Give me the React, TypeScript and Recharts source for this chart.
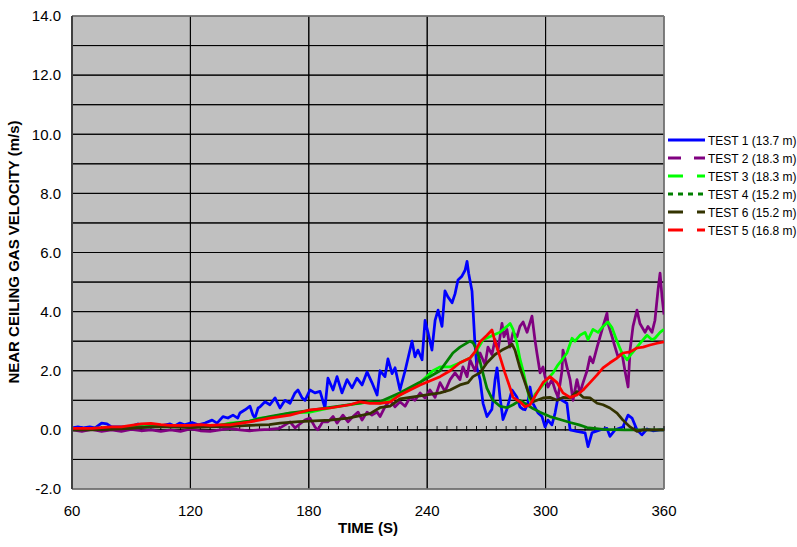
import React from 'react';
import { LineChart, Line, XAxis, YAxis, CartesianGrid, ReferenceLine } from 'recharts';

const FONT = '"Liberation Sans", Arial, Helvetica, sans-serif';

// Axis ticks
const X_TICKS = [60, 120, 180, 240, 300, 360];
const Y_TICKS = [-2, -1, 0, 1, 2, 3, 4, 5, 6, 7, 8, 9, 10, 11, 12, 13, 14];
const MINOR_X_TICKS = Array.from({ length: 61 }, (_, i) => 60 + i * 5);

// TEST 1 (13.7 m)
const T1_TIME = [60,63,65.6,69,71.7,75,77.7,80,83,87,90,93.4,96,101,104.6,109.7,112,114.7,117,120.8,124,127.4,131,133.5,136.5,139,141.6,144,145.1,147.7,150.2,151.7,152.7,154.3,155.3,157.8,160.3,162.9,165.4,167.9,170.5,173,174.5,176.6,178.1,180.6,183.1,185.7,188.2,189.7,192.3,194.3,196.8,199.4,201.9,204.4,207,209.5,212,214.6,216.1,218.6,220.1,222.2,223.7,226.2,228.8,232.3,233.8,235.3,237.4,238.9,240.4,242.4,244,245.5,247.5,249,250.5,252.6,254.1,255.6,257.6,259.2,260.2,261,262.7,264.2,265.2,266.8,268.3,270.3,272.8,274.4,275.4,276.9,278.4,280.4,283,285.5,287,288.5,289.6,291,292.1,293.6,296.2,298.2,299.7,301.2,303.2,304.8,306.3,308.3,310.8,312.4,315.9,320,321.5,323.5,327.6,331.1,332.6,335.2,339.2,341.8,343.8,346.3,348.8,351.4,354.4,357.9,360];
const T1_VEL = [0.07,0.1,0.07,0.1,0.07,0.23,0.2,0.1,0.1,0.1,0.12,0.2,0.1,0.1,0.13,0.2,0.13,0.23,0.17,0.25,0.17,0.23,0.33,0.23,0.45,0.4,0.5,0.4,0.57,0.68,0.8,0.5,0.4,0.74,0.78,0.95,0.85,1.08,0.74,1.0,0.9,1.25,1.35,1.08,1.0,1.35,1.25,1.3,0.74,1.75,1.35,1.8,1.25,1.7,1.42,1.75,1.52,1.96,1.6,1.18,2.0,1.8,2.4,1.9,2.1,1.35,2.0,3.0,2.47,2.7,2.37,3.7,3.3,2.7,3.7,4.05,3.5,4.7,4.5,4.3,4.6,5.07,5.2,5.4,5.7,5.3,4.7,2.9,2.1,1.7,0.9,0.45,0.7,1.7,2.1,1.1,0.35,0.7,1.35,1.1,0.78,0.7,0.68,0.9,1.45,0.9,0.57,0.45,0.1,0.33,0.17,0.57,1.1,1.0,0.9,0.0,-0.05,-0.1,-0.57,-0.1,0.0,0.05,-0.22,0.0,0.1,0.5,0.4,0.0,-0.17,0.03,-0.03,0.0,0.0];

// TEST 2 (18.3 m)
const T2_TIME = [60,65,70,75,80,85,90,95,100,105,110,115,120,125,130,135,140,145,150,155,160,165,168,170.5,173,175.5,178,180.6,183.1,184.6,187,189.7,192.3,194.3,197.3,199.9,202.4,205,207,209.5,212,214.6,216.1,218.6,221.2,223.7,226.2,228.8,231.3,233.8,236.4,238.9,241.4,244,246.5,249,251.6,254.1,256.6,258.1,260.2,261.7,264.2,266.8,269.3,270.8,272.8,274.4,275.9,277.9,278.9,280.4,281.9,283.5,285.5,287,288.6,290.6,293.1,294.6,295.6,297.2,298.7,299.7,301.2,303.2,304.8,306.3,308.3,308.8,310.8,312.4,313.9,315.9,317.4,319,321,322.5,324,326.1,327.6,329.1,331.1,331.6,333.7,335.2,336.7,338.7,340.2,341.8,342.8,344.3,346.3,347.8,350.4,351.9,353.9,355.4,357,358,359,360];
const T2_VEL = [0.0,-0.05,0.02,-0.05,0.0,-0.05,0.02,-0.03,0.0,-0.05,0.0,-0.05,0.03,-0.03,-0.05,0.0,0.05,0.0,-0.03,0.0,0.02,0.05,0.17,0.27,0.07,0.2,0.33,0.4,0.1,0.0,0.27,0.27,0.45,0.23,0.5,0.27,0.45,0.6,0.33,0.6,0.5,0.6,0.45,0.78,1.0,0.78,0.95,0.8,1.1,1.0,1.25,1.08,1.35,1.1,1.6,1.3,1.7,1.93,1.7,2.13,1.8,2.37,2.0,2.6,2.2,2.8,2.55,3.05,2.7,3.6,3.15,3.4,2.8,3.3,3.15,3.5,3.65,3.3,3.85,3.05,2.6,1.93,2.13,1.8,1.45,1.7,1.35,1.1,2.0,2.7,2.13,1.7,1.0,1.7,1.25,1.6,2.0,2.47,2.27,2.8,3.15,3.5,3.95,3.6,3.15,2.8,2.47,2.6,2.0,1.45,2.7,3.5,4.05,3.6,3.3,3.5,3.3,3.7,4.75,5.3,4.5,3.9];

// TEST 3 (18.3 m)
const T3_TIME = [60,70,80,90,100,110,120,130,135,140.1,145.1,150,155.3,160,170.5,180.6,190.7,200.9,211,216.1,221.2,226.2,236.4,242.9,246.5,251.6,256.6,261.7,265.2,268.3,273.3,276.9,280.4,282,283.5,285.5,287,288.6,290.6,292.1,293.6,294.6,297.2,300.7,303.8,306.3,308.3,310.8,313.4,314.9,317.4,320,321.5,324,326.6,329.1,331.6,333.7,336.2,338.7,341.3,343.8,346.3,348.8,351.4,353.9,355.4,358,360];
const T3_VEL = [0.05,0.05,0.08,0.1,0.12,0.1,0.12,0.12,0.15,0.23,0.25,0.3,0.4,0.42,0.57,0.6,0.74,0.85,0.95,0.9,1.0,1.18,1.6,2.0,2.13,2.13,2.27,2.43,2.7,3.05,3.2,3.3,3.5,3.6,3.4,2.93,2.4,2.0,1.4,1.0,0.95,1.2,1.4,1.7,1.93,2.2,2.37,2.6,3.1,3.0,3.2,3.3,3.05,3.4,3.3,3.5,3.65,3.45,3.0,2.6,2.37,2.6,2.8,3.0,3.2,3.05,3.1,3.3,3.4];

// TEST 4 (15.2 m)
const T4_TIME = [60,70,80,90,100,110,120,130,140,150,160,170,180,190,200,210,216,226,236,246.5,251.6,253,256.6,261.7,263.2,265.2,266.8,268.3,270.3,273.3,276.9,280.4,283.5,287,290.6,293.6,297.2,302.2,307.3,312.4,317,321,329,340,360];
const T4_VEL = [0.0,0.02,0.05,0.08,0.1,0.12,0.1,0.12,0.2,0.3,0.45,0.57,0.65,0.75,0.85,0.95,0.95,1.25,1.6,2.0,2.47,2.6,2.8,3.0,2.95,2.7,2.3,1.9,1.4,1.0,0.8,0.75,0.85,1.0,0.85,0.72,0.6,0.45,0.35,0.25,0.17,0.08,0.02,0.0,0.0];

// TEST 6 (15.2 m)
const T6_TIME = [60,70,80,90,100,110,120,130,140,150,160,165.4,175,190.7,200,211,216,221.2,226.2,236.4,246.5,251.6,256.6,260.7,263.2,266.8,270.3,274.4,277.9,281,283,284.5,287,290.6,292.1,293.6,295.6,298.7,302.2,305.8,308.8,312.4,315.9,319,322.5,326.1,329.1,332.6,336.2,339.2,342.8,346.3,349.4,360];
const T6_VEL = [0.0,0.0,0.02,0.05,0.1,0.1,0.08,0.1,0.12,0.15,0.18,0.23,0.28,0.33,0.4,0.55,0.75,0.8,1.05,1.15,1.25,1.35,1.52,1.6,1.8,1.93,2.27,2.55,2.7,2.8,2.9,2.7,2.1,1.4,1.1,0.95,1.0,1.08,1.1,1.0,1.1,1.08,1.3,1.1,1.08,0.9,0.85,0.74,0.57,0.33,0.1,-0.05,0.0,0.0];

// TEST 5 (16.8 m)
const T5_TIME = [60,65,70,75,80,85,90,95,100,105,110,115,120,125,130,135,140.1,150.2,160.3,170.5,180.6,190.7,200.9,205.9,211,216.1,221.2,226.2,236.4,246.5,251.6,256.6,261.7,264.2,266.8,270.3,272.8,274.4,276.9,279.4,282,283.5,287,289.6,292.1,295.6,298.7,302.2,305.8,308.8,312.4,315.9,319,322.5,326.1,329.1,332.6,336.2,339.2,342.8,346.3,349.4,352.9,356.5,360];
const T5_VEL = [0.05,0.05,0.05,0.08,0.1,0.1,0.15,0.2,0.22,0.18,0.15,0.15,0.15,0.18,0.15,0.17,0.17,0.27,0.4,0.5,0.68,0.74,0.85,0.95,0.9,0.9,0.95,1.18,1.52,1.8,2.0,2.27,2.43,2.64,2.98,3.2,3.38,2.98,2.47,1.93,1.42,1.1,0.95,0.78,0.85,1.25,1.6,1.8,1.6,1.25,1.1,1.18,1.35,1.6,1.86,2.1,2.27,2.43,2.6,2.64,2.77,2.8,2.87,2.93,2.98];

const SERIES_NAMES = ['TEST 1 (13.7 m)', 'TEST 2 (18.3 m)', 'TEST 3 (18.3 m)', 'TEST 4 (15.2 m)', 'TEST 6 (15.2 m)', 'TEST 5 (16.8 m)'];
const SERIES_COLORS = ['#0000FF', '#800080', '#00FF00', '#008000', '#333300', '#FF0000'];
const LEGEND_DASHES = ['none', '13 13', '15 14', '5 5', '15 14', '15 14'];

const zip = (t: number[], v: number[]) =>
  t.slice(0, Math.min(t.length, v.length)).map((x, i) => ({ t: x, v: v[i] }));

const SERIES_DATA = [
  zip(T1_TIME, T1_VEL),
  zip(T2_TIME, T2_VEL),
  zip(T3_TIME, T3_VEL),
  zip(T4_TIME, T4_VEL),
  zip(T6_TIME, T6_VEL),
  zip(T5_TIME, T5_VEL),
];

const W = 797;
const H = 547;

export default function App() {
  return (
    <div style={{ position: 'absolute', left: 0, top: 0, width: W, height: H, background: '#fff', overflow: 'hidden' }}>
      <LineChart width={W} height={H} margin={{ top: 16, right: 133, bottom: 28, left: 12 }}>
        <CartesianGrid stroke="#000" strokeWidth={1} fill="#C0C0C0" fillOpacity={1} />
        <XAxis
          type="number"
          dataKey="t"
          domain={[60, 360]}
          ticks={X_TICKS}
          interval={0}
          allowDataOverflow
          height={30}
          tickSize={0}
          tickMargin={16}
          tickLine={false}
          axisLine={{ stroke: '#808080', strokeWidth: 1.5 }}
          tick={{ fontSize: 15, fill: '#000', fontFamily: FONT }}
        />
        <YAxis
          type="number"
          domain={[-2, 14]}
          ticks={Y_TICKS}
          interval={0}
          allowDataOverflow
          width={60}
          tickSize={0}
          tickMargin={11}
          tickLine={false}
          axisLine={{ stroke: '#404040', strokeWidth: 2 }}
          tick={{ fontSize: 15, fill: '#000', fontFamily: FONT }}
          tickFormatter={(v: number) => (v % 2 === 0 ? v.toFixed(1) : '')}
        />
        {Y_TICKS.filter((y) => y > -2 && y < 14).map((y) => (
          <ReferenceLine key={'gy' + y} y={y} stroke="#000" strokeWidth={1} />
        ))}
        {X_TICKS.filter((x) => x > 60 && x < 360).map((x) => (
          <ReferenceLine key={'gx' + x} x={x} stroke="#000" strokeWidth={1} />
        ))}
        <ReferenceLine y={14} stroke="#808080" strokeWidth={1.5} />
        <ReferenceLine x={360} stroke="#808080" strokeWidth={1.5} />
        {MINOR_X_TICKS.map((t) => (
          <ReferenceLine
            key={'mt' + t}
            segment={[{ x: t, y: -0.03 }, { x: t, y: 0.13 }]}
            stroke="#000"
            strokeWidth={1}
          />
        ))}
        {SERIES_DATA.map((d, i) => (
          <Line
            key={SERIES_NAMES[i]}
            name={SERIES_NAMES[i]}
            data={d}
            dataKey="v"
            type="linear"
            stroke={SERIES_COLORS[i]}
            strokeWidth={2.75}
            strokeLinejoin="round"
            dot={false}
            activeDot={false}
            isAnimationActive={false}
          />
        ))}
      </LineChart>
      <svg
        width={W}
        height={H}
        style={{ position: 'absolute', left: 0, top: 0, pointerEvents: 'none' }}
      >
        <text
          transform="translate(19,252) rotate(-90)"
          textAnchor="middle"
          fontFamily={FONT}
          fontWeight="bold"
          fontSize={15}
          fill="#000"
        >
          NEAR CEILING GAS VELOCITY (m/s)
        </text>
        <text x={368} y={533} textAnchor="middle" fontFamily={FONT} fontWeight="bold" fontSize={15} fill="#000">
          TIME (S)
        </text>
        {SERIES_NAMES.map((name, i) => {
          const cy = 140 + i * 18;
          return (
            <g key={'lg' + name}>
              <line
                x1={668}
                x2={705}
                y1={cy}
                y2={cy}
                stroke={SERIES_COLORS[i]}
                strokeWidth={3}
                strokeDasharray={LEGEND_DASHES[i]}
              />
              <text x={708} y={cy + 4.5} fontFamily={FONT} fontSize={12} fill="#000">
                {name}
              </text>
            </g>
          );
        })}
      </svg>
    </div>
  );
}
